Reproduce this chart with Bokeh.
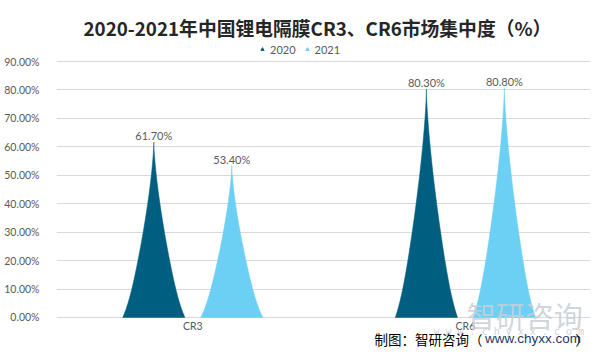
from bokeh.plotting import figure
from bokeh.models import (Range1d, FixedTicker, PrintfTickFormatter, Legend, LegendItem, Label)
from bokeh.core.properties import value
from bokeh.embed import file_html
from bokeh.resources import INLINE

categories = ["CR3", "CR6"]
years = ["2020", "2021"]
values_2020 = [61.7, 80.3]
values_2021 = [53.4, 80.8]
y_ticks = [0, 10, 20, 30, 40, 50, 60, 70, 80, 90]
title_text = "2020-2021年中国锂电隔膜CR3、CR6市场集中度（%）"

colors = {"2020": "#005F80", "2021": "#6CD0F5"}
series = {"2020": values_2020, "2021": values_2021}
offsets = {"2020": -0.143, "2021": 0.143}
half_w = 0.114

p = figure(width=590, height=348, output_backend="svg", toolbar_location=None,
           x_range=Range1d(0, 1.959), y_range=Range1d(-10.9, 96.68),
           min_border_left=56, min_border_right=0, min_border_top=42, min_border_bottom=0)
p.background_fill_color = "white"
p.border_fill_color = "white"
p.outline_line_color = None

p.title.text = title_text
p.title.text_font = "Noto Sans CJK SC"
p.title.text_font_size = "18.8px"
p.title.text_font_style = "bold"
p.title.text_color = "#262626"
p.title.align = "left"
p.title.offset = 27
p.title.standoff = 4

# y axis
p.yaxis.ticker = FixedTicker(ticks=y_ticks)
p.yaxis.formatter = PrintfTickFormatter(format="%.2f%%")
p.yaxis.axis_line_color = None
p.yaxis.major_tick_line_color = None
p.yaxis.minor_tick_line_color = None
p.yaxis.major_label_standoff = 11
p.yaxis.major_label_text_font = "Lato"
p.yaxis.major_label_text_font_size = "10.5px"
p.yaxis.major_label_text_color = "#595959"
p.ygrid.grid_line_color = "#D9D9D9"
p.ygrid.ticker = FixedTicker(ticks=y_ticks)
p.xgrid.grid_line_color = None
p.xaxis.visible = False

# category labels under the baseline
centers = [i + 0.5 for i in range(len(categories))]
p.text(x=centers, y=[0] * len(centers), text=categories, text_align="center", text_baseline="top",
       y_offset=3, text_font=value("Lato"), text_font_size="10.5px", text_color="#595959")

# peak-shaped bars
n = 40
def width_at(t):
    return half_w * (0.9 * (1 - t) ** 1.45 + 0.1 * (1 - t) ** 12)

legend_items = []
for yr in years:
    xs, ys = [], []
    lx, ly, lt = [], [], []
    for c, v in zip(centers, series[yr]):
        cx = c + offsets[yr]
        ts = [k / n for k in range(n + 1)]
        left_x = [cx - width_at(t) for t in ts]
        left_y = [v * t for t in ts]
        right_x = [cx + width_at(t) for t in reversed(ts)]
        right_y = [v * t for t in reversed(ts)]
        xs.append(left_x + right_x[1:])
        ys.append(left_y + right_y[1:])
        lx.append(cx)
        ly.append(v)
        lt.append(f"{v:.2f}%")
    # legend marker renderer, hidden under its own peak
    r = p.scatter(x=lx, y=[v * 0.3 for v in ly], marker="triangle", size=7,
                  fill_color=colors[yr], line_color=colors[yr])
    p.patches(xs=xs, ys=ys, fill_color=colors[yr], line_color=colors[yr], line_width=0.5)
    p.text(x=lx, y=ly, text=lt, text_align="center", text_baseline="bottom",
           y_offset=0, text_font=value("Lato"), text_font_size="11px", text_color="#595959")
    legend_items.append(LegendItem(label=yr, renderers=[r]))

legend = Legend(items=legend_items, orientation="horizontal", location=(202, 292),
                border_line_color=None, background_fill_alpha=0,
                label_text_font="Lato", label_text_font_size="11px", label_text_color="#595959",
                glyph_width=8, glyph_height=14, label_height=14, label_standoff=4, spacing=7,
                padding=0, margin=0)
p.add_layout(legend)

# watermark
p.add_layout(Label(x=1.505, y=0.9, text="智研咨询", text_font="Noto Sans CJK SC",
                   text_font_size="29px", text_color="#C9CED6", text_alpha=0.85,
                   text_baseline="middle", text_align="left"))
p.add_layout(Label(x=1.383, y=-5.0, text=" ".join("www.chyxx.com"), text_font="DejaVu Sans Mono",
                   text_font_size="10px", text_color="#C5CBD5", text_alpha=0.85,
                   text_baseline="middle", text_align="left"))
# footer
p.add_layout(Label(x=1.167, y=-7.5, text="制图：智研咨询（", text_font="Noto Sans CJK SC",
                   text_font_size="13.5px", text_color="#000000",
                   text_baseline="middle", text_align="left"))
p.add_layout(Label(x=1.572, y=-7.5, text="www.chyxx.com", text_font="Liberation Sans",
                   text_font_size="13.5px", text_color="#1F3864",
                   text_baseline="middle", text_align="left"))
p.add_layout(Label(x=1.903, y=-7.5, text="）", text_font="Noto Sans CJK SC",
                   text_font_size="13.5px", text_color="#000000",
                   text_baseline="middle", text_align="left"))

open("out.html", "w").write(file_html(p, INLINE))
